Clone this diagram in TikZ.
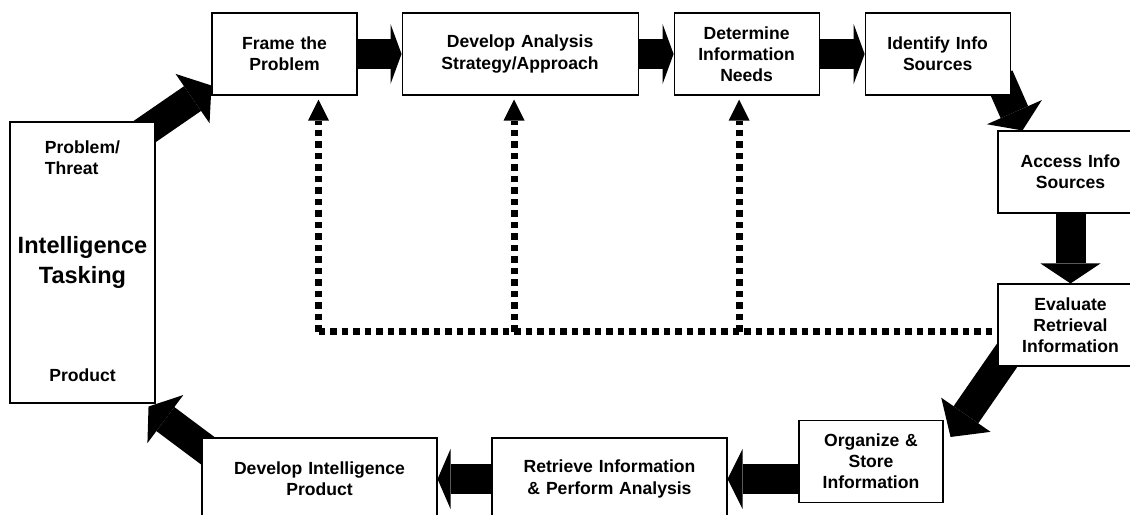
\documentclass[tikz,border=0pt]{standalone}
\usepackage{fontspec}
\setmainfont{Liberation Sans}
\usetikzlibrary{positioning,arrows.meta}
\pgfdeclarelayer{background}
\pgfsetlayers{background,main}
\tikzset{
  stage/.style={rectangle, draw=black, line width=0.6pt, fill=white, inner sep=0pt, text width=#1, minimum width=#1, align=center, minimum height=16.4mm, font=\fontsize{10}{12}\selectfont\bfseries},
  stage/.default=29mm,
  tag/.style={inner sep=0pt, font=\fontsize{10}{12}\selectfont\bfseries},
  bigarrow/.style={line width=6mm, -{Triangle[length=#1, width=12mm, line width=0pt]}},
  bigarrow/.default=2.2mm,
  feedback/.style={line width=1.4mm, dash pattern=on 1.3mm off 1mm, -{Triangle[length=4.2mm, width=4.2mm, line width=0pt]}, shorten >=0.8mm}
}

\begin{document}
\begin{tikzpicture}[x=0.2mm, y=-0.2mm]
  \useasboundingbox (0,0) rectangle (1130,515);
  \clip (0,0) rectangle (1130,515);

  % top row
  \node[stage] (frame) at (284.5,54) {Frame the\\Problem};
  \node[stage=47.2mm, right=8.8mm of frame] (analysis) {Develop Analysis\\Strategy/Approach};
  \node[stage, right=7mm of analysis] (needs) {Determine\\Information\\Needs};
  \node[stage, right=9mm of needs] (identify) {Identify Info\\Sources};

  % right column and bottom row
  \node[stage] (access) at (1070.5,172) {Access Info\\Sources};
  \node[stage] (evaluate) at (1070.5,325) {Evaluate\\Retrieval\\Information};
  \node[stage=28.8mm] (organize) at (871,461.5) {Organize \&\\Store\\Information};
  \node[stage=47mm] (retrieve) at (609.5,479) {Retrieve Information\\\& Perform Analysis};
  \node[stage=47mm] (devintel) at (319.5,479) {Develop Intelligence\\Product};

  % tasking box
  \node[stage, minimum height=56.2mm, font=\fontsize{13.4}{17}\selectfont\bfseries] (tasking) at (82.5,262.5) {Intelligence\\Tasking};
  \node[tag, align=left, anchor=west] (threat) at ([xshift=7mm,yshift=-7.2mm]tasking.north west) {Problem/\\Threat};
  \node[tag] (product) at ([yshift=5.6mm]tasking.south) {Product};

  \begin{pgfonlayer}{background}
    \draw[bigarrow=4.6mm] ([xshift=-3.6mm,yshift=-3mm]tasking.north east) -- ([yshift=2mm]frame.south west);
    \draw[bigarrow] (frame) -- (analysis);
    \draw[bigarrow] (analysis) -- (needs);
    \draw[bigarrow] (needs) -- (identify);
    \draw[bigarrow=4mm] ([xshift=-2.4mm,yshift=3.8mm]identify.south east) -- ([xshift=5mm]access.north west);
    \draw[bigarrow=4mm] (access) -- (evaluate);
    \draw[bigarrow=5.4mm] ([xshift=3mm,yshift=3.8mm]evaluate.south west) -- ([xshift=1.4mm,yshift=-3.4mm]organize.north east);
    \draw[bigarrow=3mm] (organize.west |- retrieve) -- (retrieve);
    \draw[bigarrow=2.6mm] (retrieve) -- (devintel);
    \draw[bigarrow=4.2mm] ([xshift=3.6mm,yshift=-4.4mm]devintel.north west) -- ([xshift=-1.4mm,yshift=-0.6mm]tasking.south east);
  \end{pgfonlayer}

  % feedback loop
  \coordinate (corner) at ([yshift=-1.4mm]evaluate.west);
  \foreach \target/\dx in {frame/6.8mm, analysis/-1.2mm, needs/-1.5mm}
    \draw[feedback] ([xshift=\dx]\target.south |- corner) -- ([xshift=\dx]\target.south);
  \draw[feedback, -, shorten >=0pt] ([xshift=6.8mm]frame.south |- corner) -- (corner);
\end{tikzpicture}
\end{document}
